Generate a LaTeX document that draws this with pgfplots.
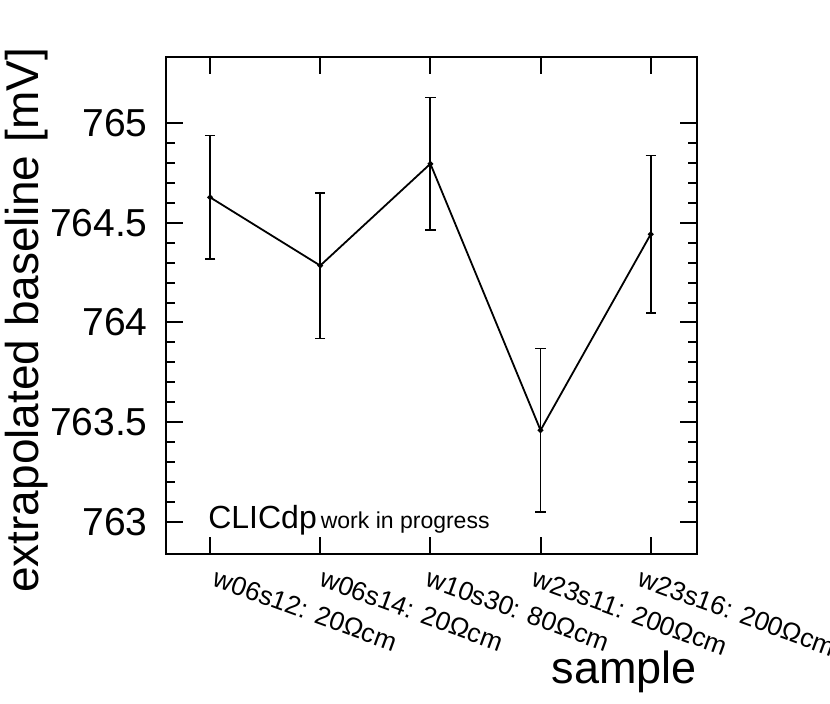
\documentclass[border=0pt]{standalone}
\usepackage{fontspec}
\setmainfont{Liberation Sans}
\usepackage{pgfplots}
\pgfplotsset{compat=1.18}

\begin{document}
\begin{tikzpicture}
\useasboundingbox (-83pt,-74.5pt) rectangle (332pt,277pt);
\begin{axis}[
    scale only axis,
    width=265.5pt, height=248.5pt,
    xmin=-0.4, xmax=4.42,
    ymin=762.84, ymax=765.33,
    /pgf/number format/assume math mode=true,
    axis line style={line width=1pt},
    xtick={0,1,2,3,4},
    xticklabels={w06s12: 20Ωcm, w06s14: 20Ωcm, w10s30: 80Ωcm, w23s11: 200Ωcm, w23s16: 200Ωcm},
    ytick={763,763.5,764,764.5,765},
    minor y tick num=4,
    tick align=inside,
    tick style={line width=1pt, black},
    major tick length=8.5pt,
    minor tick length=4.5pt,
    x tick label style={font=\fontsize{13.2}{14}\selectfont, rotate=-20, anchor=north west, inner sep=0pt,
        xshift={1.88pt*(2-\ticknum)+2.39pt}, yshift={0.684pt*(2-\ticknum)-6.58pt}},
    y tick label style={font=\fontsize{19.5}{20}\selectfont, inner sep=0pt, xshift=-9pt},
    xlabel={sample},
    ylabel={extrapolated baseline [mV]},
    xlabel style={font=\fontsize{22.5}{24}\selectfont, inner sep=0pt, at={(axis description cs:1,-0.26)}, anchor=base east},
    ylabel style={font=\fontsize{23}{24}\selectfont, at={(axis description cs:-0.262,0.47)}, anchor=center},
]
\addplot[black, line width=0.9pt, mark=*, mark size=0.9pt,
    error bars/.cd, y dir=both, y explicit,
    error bar style={line width=0.9pt},
    error mark options={rotate=90, mark size=2.6pt, line width=0.9pt}]
coordinates {
    (0,764.627) +- (0,0.31)
    (1,764.285) +- (0,0.365)
    (2,764.795) +- (0,0.332)
    (3,763.46)  +- (0,0.41)
    (4,764.442) +- (0,0.394)
};
\node[anchor=base west, inner sep=0pt] at (axis description cs:0.079,0.052)
    {{\fontsize{16}{17}\selectfont CLICdp}\hspace{2pt}{\fontsize{11.5}{12}\selectfont work in progress}};
\end{axis}
\end{tikzpicture}
\end{document}
